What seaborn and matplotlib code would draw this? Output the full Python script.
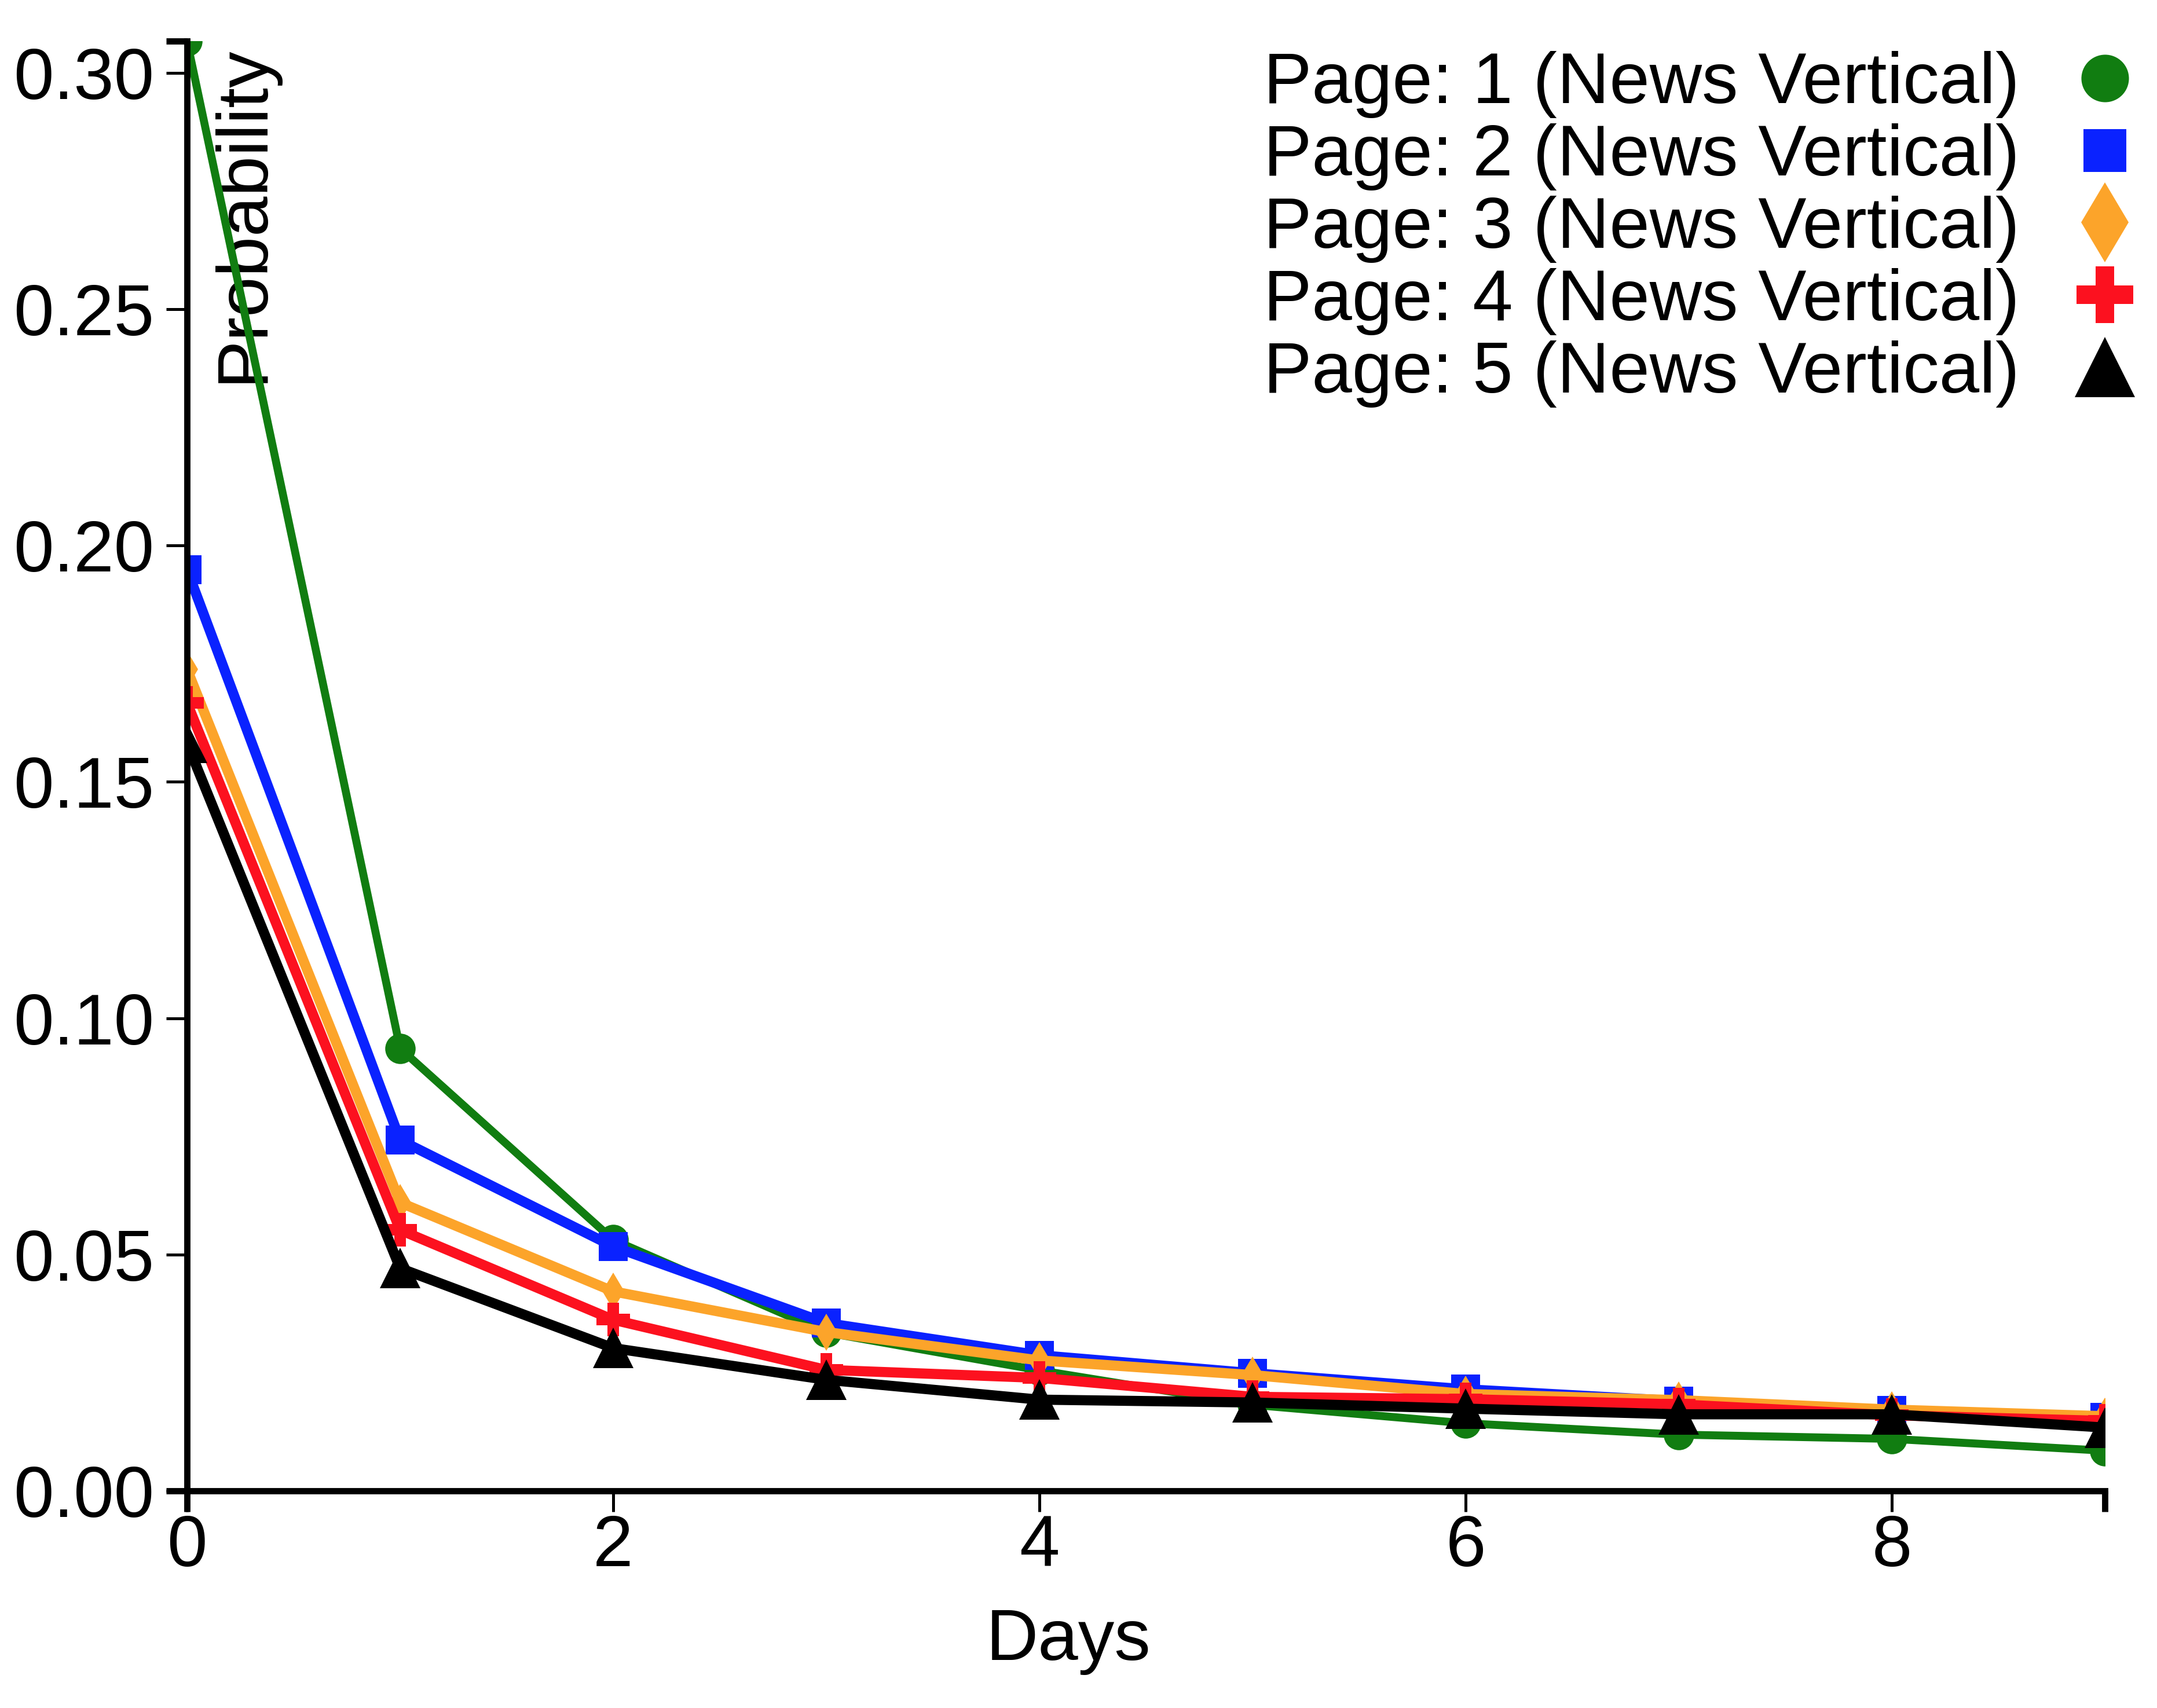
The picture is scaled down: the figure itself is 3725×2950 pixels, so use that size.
import numpy as np
import pandas as pd
import matplotlib
matplotlib.use("Agg")
import matplotlib.pyplot as plt
from matplotlib.lines import Line2D
from matplotlib.ticker import FixedLocator, FormatStrFormatter
import seaborn as sns

# data
days = [0, 1, 2, 3, 4, 5, 6, 7, 8, 9]
page1 = [0.3067, 0.0936, 0.0531, 0.0335, 0.0255, 0.0182, 0.0143, 0.0119, 0.0110, 0.0085]
page2 = [0.1949, 0.0742, 0.0517, 0.0355, 0.0287, 0.0249, 0.0215, 0.0190, 0.0170, 0.0155]
page3 = [0.1738, 0.0610, 0.0422, 0.0336, 0.0276, 0.0245, 0.0205, 0.0192, 0.0172, 0.0158]
page4 = [0.1667, 0.0552, 0.0362, 0.0256, 0.0239, 0.0199, 0.0194, 0.0183, 0.0160, 0.0148]
page5 = [0.1582, 0.0471, 0.0302, 0.0235, 0.0193, 0.0187, 0.0174, 0.0162, 0.0162, 0.0134]
labels = ["Page: %d (News Vertical)" % i for i in range(1, 6)]

colors = ["#117d11", "#0a22ff", "#fca42a", "#fc111f", "#000000"]
markers = ["o", "s", "d", "P", "^"]
msizes = [12.6, 12.0, 11.0, 14.0, 16.6]
leg_msizes = [19.7, 17.8, 23.4, 23.3, 25.0]
lwidths = [3.3, 4.2, 4.2, 4.2, 4.2]

sns.set_style("ticks")
plt.rcParams["font.family"] = ["Liberation Sans", "DejaVu Sans"]
plt.rcParams["font.size"] = 30
plt.rcParams["text.color"] = "black"
plt.rcParams["axes.labelcolor"] = "black"

fig = plt.figure(figsize=(3725 / 300, 2950 / 300), dpi=300)
ax = fig.add_axes([0.08671, 0.12712, 0.97584 - 0.08671, 0.97593 - 0.12712])

for vals, lab, c, m, ms, lw in zip([page1, page2, page3, page4, page5], labels,
                                   colors, markers, msizes, lwidths):
    df = pd.DataFrame({"Days": days, "Probability": vals})
    sns.lineplot(data=df, x="Days", y="Probability", color=c, marker=m,
                 markersize=ms, markeredgewidth=0, linewidth=lw, ax=ax,
                 legend=False)

ymax = max(page1 + page2 + page3 + page4 + page5)
ax.set_xlim(0, 9)
ax.set_ylim(0, ymax)
sns.despine(ax=ax)

for side in ["left", "bottom"]:
    ax.spines[side].set_linewidth(2.6)
    ax.spines[side].set_color("black")

ax.set_xticks([0, 2, 4, 6, 8])
ax.set_yticks(np.arange(0, 0.31, 0.05))
ax.yaxis.set_major_formatter(FormatStrFormatter("%.2f"))
# thicker ticks at the ends of each axis
ax.xaxis.set_minor_locator(FixedLocator([0, 9]))
ax.yaxis.set_minor_locator(FixedLocator([0, ymax]))
ax.xaxis.remove_overlapping_locs = False
ax.yaxis.remove_overlapping_locs = False
ax.tick_params(which="major", direction="out", length=8.6, width=1.2,
               color="black", labelsize=30, labelcolor="black")
ax.tick_params(axis="y", which="major", pad=5)
ax.tick_params(axis="x", which="major", pad=1)
ax.tick_params(which="minor", direction="out", length=8.6, width=2.6,
               color="black")

ax.set_xlabel("Days", fontsize=30)
ax.set_ylabel("Probability", fontsize=30)
ax.xaxis.set_label_coords(0.4595, -0.0807)
ax.yaxis.set_label_coords(0.047, 0.881)

handles = [Line2D([], [], linestyle="none", marker=m, color=c, markersize=s,
                  markeredgewidth=0)
           for m, c, s in zip(markers, colors, leg_msizes)]
fig.legend(handles, labels, loc="upper right", bbox_to_anchor=(0.9893, 0.9700),
           frameon=False, markerfirst=False, fontsize=30, handlelength=0.8,
           handletextpad=0.78, labelspacing=0.07, borderpad=0, borderaxespad=0)

fig.savefig("out.png", dpi=300)
